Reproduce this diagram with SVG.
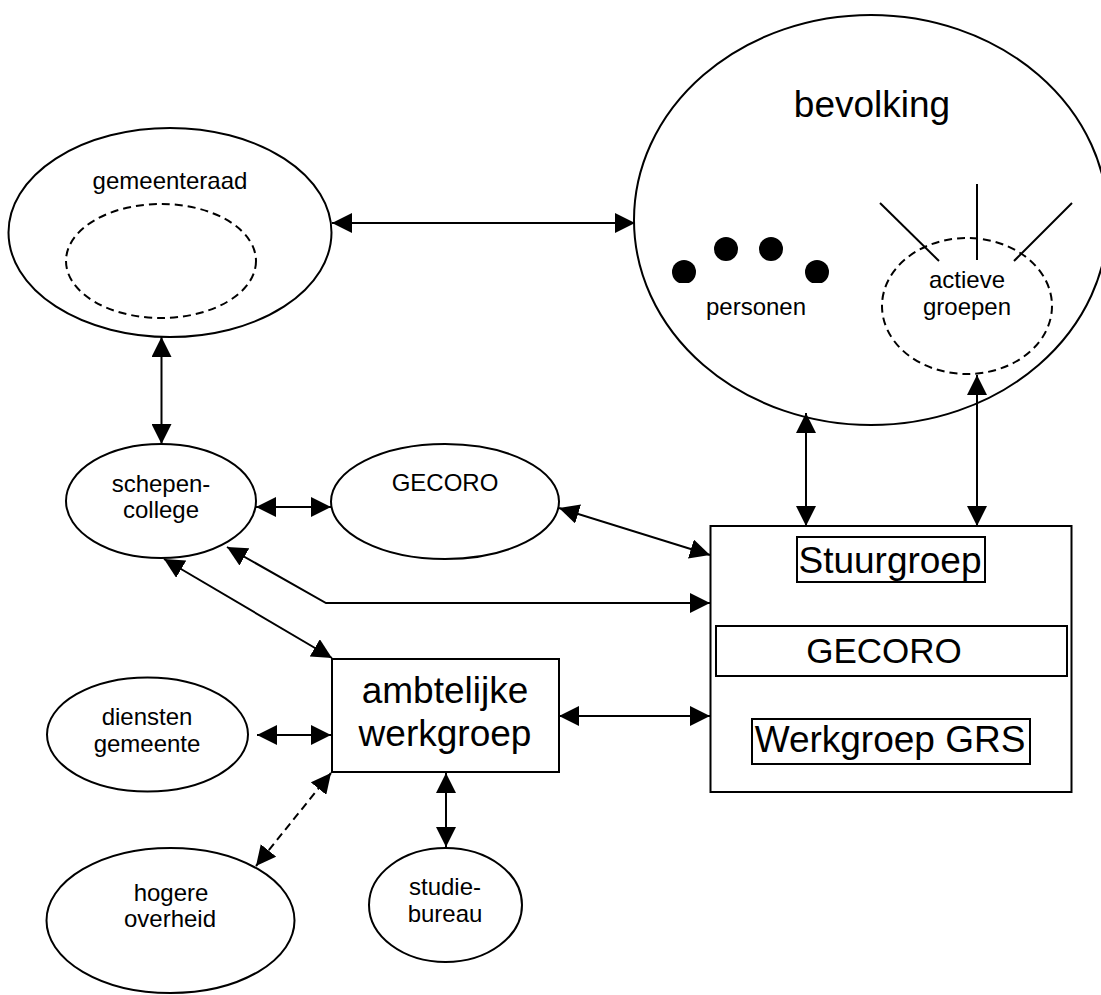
<svg xmlns="http://www.w3.org/2000/svg" width="1101" height="995" viewBox="0 0 1101 995">
<style>
  .shape { fill: none; stroke: #000; stroke-width: 2; }
  .dash { fill: none; stroke: #000; stroke-width: 2; stroke-dasharray: 8 5; }
  .line { fill: none; stroke: #000; stroke-width: 2; }
  .conn { fill: none; stroke: #000; stroke-width: 2; marker-start: url(#ah); marker-end: url(#ah); }
  .conn-dash { fill: none; stroke: #000; stroke-width: 2; stroke-dasharray: 8 5; marker-start: url(#ah); marker-end: url(#ah); }
  text { font-family: "Liberation Sans", Arial, sans-serif; fill: #000; text-anchor: middle; }
  .s { font-size: 24px; }
  .l { font-size: 37px; }
</style>
<defs>
  <marker id="ah" markerUnits="userSpaceOnUse" markerWidth="20" markerHeight="20" refX="20" refY="10" orient="auto-start-reverse" viewBox="0 0 20 20">
    <path d="M0,0 L20,10 L0,20 z" fill="#000"/>
  </marker>
  <clipPath id="dotclip"><rect x="600" y="200" width="300" height="83"/></clipPath>
</defs>
<rect width="1101" height="995" fill="#fff"/>

<g id="bevolking">
  <ellipse class="shape" cx="871" cy="220" rx="237" ry="205"/>
  <text class="l" x="872" y="117">bevolking</text>
  <g id="personen">
    <g clip-path="url(#dotclip)">
      <circle cx="684" cy="272" r="12"/>
      <circle cx="726" cy="249" r="12"/>
      <circle cx="771" cy="249" r="12"/>
      <circle cx="817" cy="272" r="12"/>
    </g>
    <text class="s" x="756" y="315">personen</text>
  </g>
  <g id="actieve-groepen">
    <ellipse class="dash" cx="967" cy="306" rx="85" ry="68"/>
    <line class="line" x1="880" y1="203" x2="939" y2="261"/>
    <line class="line" x1="977" y1="184" x2="977" y2="260"/>
    <line class="line" x1="1072" y1="203" x2="1014" y2="261"/>
    <text class="s" x="967" y="288">actieve</text>
    <text class="s" x="967" y="315">groepen</text>
  </g>
</g>

<g id="gemeenteraad">
  <ellipse class="shape" cx="170" cy="232.5" rx="161.5" ry="104.5"/>
  <ellipse class="dash" cx="161" cy="261" rx="95" ry="57"/>
  <text class="s" x="170" y="189">gemeenteraad</text>
</g>

<g id="schepencollege">
  <ellipse class="shape" cx="161" cy="501" rx="95" ry="57"/>
  <text class="s" x="161" y="492">schepen-</text>
  <text class="s" x="161" y="518">college</text>
</g>

<g id="gecoro">
  <ellipse class="shape" cx="445" cy="501.5" rx="114" ry="57.5"/>
  <text class="s" x="445" y="491">GECORO</text>
</g>

<g id="stuur">
  <rect class="shape" x="710.5" y="526" width="361" height="266"/>
  <rect class="shape" x="797" y="537" width="188" height="45"/>
  <text class="l" x="890" y="573">Stuurgroep</text>
  <rect class="shape" x="716" y="626" width="351" height="50"/>
  <text class="l" x="884" y="663" style="font-size:35px">GECORO</text>
  <rect class="shape" x="752" y="719" width="278" height="45"/>
  <text class="l" x="890" y="752">Werkgroep GRS</text>
</g>

<g id="ambtelijke-werkgroep">
  <rect class="shape" x="332" y="659" width="227" height="113"/>
  <text class="l" x="445" y="703">ambtelijke</text>
  <text class="l" x="445" y="746">werkgroep</text>
</g>

<g id="diensten-gemeente">
  <ellipse class="shape" cx="147.5" cy="734.5" rx="100.5" ry="57"/>
  <text class="s" x="147" y="725">diensten</text>
  <text class="s" x="147" y="752">gemeente</text>
</g>

<g id="hogere-overheid">
  <ellipse class="shape" cx="170.5" cy="920.5" rx="124" ry="72.5"/>
  <text class="s" x="171" y="901">hogere</text>
  <text class="s" x="170" y="927">overheid</text>
</g>

<g id="studiebureau">
  <ellipse class="shape" cx="445.5" cy="905" rx="76.5" ry="57"/>
  <text class="s" x="445" y="895">studie-</text>
  <text class="s" x="445" y="922">bureau</text>
</g>

<g id="connectors">
  <line class="conn" x1="332" y1="223" x2="635" y2="223"/>
  <line class="conn" x1="161.5" y1="337" x2="161.5" y2="444"/>
  <line class="conn" x1="256" y1="507" x2="331" y2="507"/>
  <line class="conn" x1="559" y1="508" x2="710" y2="555"/>
  <polyline class="conn" points="227,547 326,603 710,603"/>
  <line class="conn" x1="164" y1="559" x2="332" y2="658"/>
  <line class="conn" x1="806" y1="413" x2="806" y2="526"/>
  <line class="conn" x1="977" y1="375" x2="977" y2="526"/>
  <line class="conn" x1="559" y1="716" x2="710" y2="716"/>
  <line class="conn" x1="257" y1="735" x2="331" y2="735"/>
  <line class="conn-dash" x1="331" y1="773" x2="256" y2="866"/>
  <line class="conn" x1="446" y1="773" x2="446" y2="847"/>
</g>
</svg>
